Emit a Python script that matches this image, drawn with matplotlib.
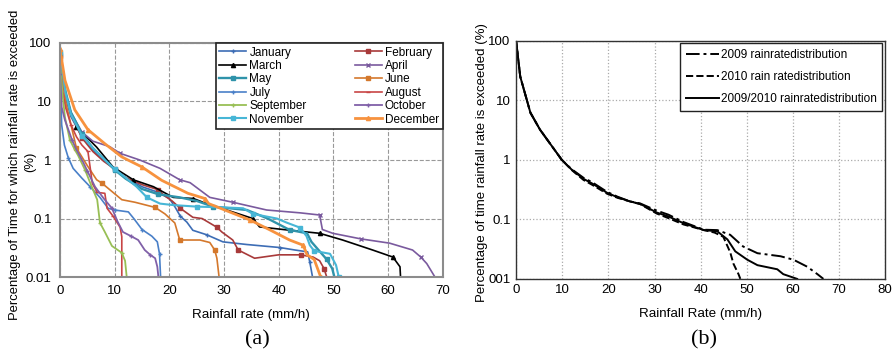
import matplotlib.pyplot as plt
import numpy as np

plt.rcParams['font.family'] = ['Liberation Sans', 'DejaVu Sans']

# ---------- (a) monthly rain rate exceedance curves ----------
months = ['January', 'February', 'March', 'April', 'May', 'June',
          'July', 'August', 'September', 'October', 'November', 'December']

jan_x = [0, 1, 2, 4, 6, 8, 10, 12, 15, 18, 20, 21, 22, 23.2, 24.3, 26.8, 29.8, 34.2, 40.2, 43, 45.3, 45.7, 46.2]
jan_y = [60, 12, 5.5, 2.5, 1.5, 1.0, 0.7, 0.5, 0.35, 0.28, 0.22, 0.16, 0.11, 0.087, 0.063, 0.053, 0.04, 0.036, 0.032, 0.029, 0.027, 0.018, 0.01]

feb_x = [0, 1, 2, 4, 6, 8, 10, 12, 15, 18, 19, 20.5, 22, 24.3, 26, 28.7, 29.6, 31.6, 32.6, 35.6, 40, 44, 46.3, 47.5, 48.3, 48.8]
feb_y = [60, 12, 6, 2.4, 1.4, 0.95, 0.7, 0.5, 0.38, 0.31, 0.25, 0.2, 0.15, 0.105, 0.1, 0.071, 0.059, 0.043, 0.029, 0.021, 0.024, 0.024, 0.022, 0.019, 0.014, 0.01]

mar_x = [3, 6.7, 9.7, 13.4, 17.1, 20.7, 24.4, 26.8, 30.5, 35.3, 36.5, 41.5, 47.5, 51.7, 57.2, 60.9, 62.2, 62.3]
mar_y = [3.7, 1.66, 0.76, 0.46, 0.35, 0.23, 0.22, 0.18, 0.14, 0.1, 0.072, 0.064, 0.056, 0.043, 0.029, 0.022, 0.015, 0.01]

apr_x = [0, 1, 2, 4, 6, 9.1, 11, 14.6, 18.3, 21.9, 23.8, 27.4, 31.6, 37.8, 44, 47.5, 48, 49.9, 55, 60.3, 64.5, 66, 67.1, 68.6]
apr_y = [60, 14, 6.5, 3, 2.1, 1.69, 1.3, 1.0, 0.72, 0.46, 0.41, 0.23, 0.19, 0.14, 0.125, 0.115, 0.065, 0.056, 0.045, 0.038, 0.029, 0.022, 0.017, 0.01]

may_x = [0, 1, 2, 4, 6, 8, 10, 12, 15, 18, 21.9, 25, 28, 34.2, 38, 42, 45.2, 46, 48.8, 49.8, 50.2]
may_y = [65, 15, 6.5, 2.8, 1.6, 1.05, 0.68, 0.48, 0.32, 0.26, 0.23, 0.2, 0.16, 0.14, 0.1, 0.064, 0.056, 0.04, 0.02, 0.014, 0.01]

jun_x = [0, 1, 2, 3, 5, 6.7, 7.7, 11.3, 13.7, 17.4, 19.2, 21, 21.9, 25.6, 27.4, 28.3, 28.7, 29.1]
jun_y = [55, 10, 4, 1.6, 0.8, 0.46, 0.4, 0.21, 0.19, 0.155, 0.12, 0.084, 0.043, 0.043, 0.039, 0.029, 0.021, 0.01]

jul_x = [0, 0.3, 0.8, 1.5, 2.4, 4, 5.5, 7.3, 8.8, 10, 12.5, 13.5, 15, 16.8, 17.8, 18.2, 18.4]
jul_y = [40, 4, 1.8, 1.1, 0.72, 0.49, 0.35, 0.23, 0.15, 0.14, 0.13, 0.1, 0.065, 0.05, 0.04, 0.025, 0.01]

aug_x = [0, 0.5, 1, 2, 3, 4, 5.1, 5.5, 5.9, 6.8, 8.2, 8.6, 9.7, 11, 11.3, 11.3]
aug_y = [50, 15, 8, 4, 2.5, 1.8, 1.4, 0.76, 0.4, 0.28, 0.27, 0.15, 0.11, 0.071, 0.049, 0.01]

sep_x = [0, 0.5, 0.9, 1.8, 2.7, 3.3, 4.6, 5.8, 6.8, 7.3, 8.2, 9.5, 11.3, 11.9, 12.2]
sep_y = [50, 12, 5.4, 2.2, 1.5, 1.2, 0.67, 0.35, 0.21, 0.085, 0.059, 0.034, 0.026, 0.019, 0.01]

oct_x = [0, 0.3, 0.9, 2.2, 3, 4.2, 5, 6.4, 8, 9.5, 10.5, 11.5, 13, 14.3, 15.5, 16.5, 17.4, 17.8, 18]
oct_y = [30, 8, 4.8, 2.2, 1.5, 0.93, 0.65, 0.35, 0.22, 0.15, 0.09, 0.059, 0.05, 0.043, 0.029, 0.024, 0.021, 0.015, 0.01]

nov_x = [0, 1, 2, 4, 6, 8, 10, 12, 14, 15.9, 18.3, 20.7, 25, 30, 33.5, 35.3, 39.7, 41.5, 43.9, 45.1, 45.7, 46.5, 49.4, 50.5, 51]
nov_y = [70, 14, 6, 2.6, 1.6, 1.05, 0.7, 0.5, 0.35, 0.23, 0.18, 0.17, 0.16, 0.155, 0.15, 0.12, 0.1, 0.085, 0.07, 0.05, 0.035, 0.028, 0.025, 0.016, 0.01]

dec_x = [0, 0.9, 2.7, 5.1, 8.2, 11.3, 15, 18.6, 23.4, 26.5, 27.2, 31, 34.7, 38.4, 42, 44.5, 45.2, 46.5, 47.7]
dec_y = [78, 23, 7.2, 3.3, 1.9, 1.13, 0.76, 0.45, 0.27, 0.22, 0.18, 0.13, 0.095, 0.064, 0.043, 0.035, 0.024, 0.02, 0.01]

month_data = [(jan_x, jan_y), (feb_x, feb_y), (mar_x, mar_y), (apr_x, apr_y),
              (may_x, may_y), (jun_x, jun_y), (jul_x, jul_y), (aug_x, aug_y),
              (sep_x, sep_y), (oct_x, oct_y), (nov_x, nov_y), (dec_x, dec_y)]

colors = ['#3d6db5', '#a83a3a', '#000000', '#7a5a9e', '#2f93aa', '#d4782c',
          '#4a80c8', '#c84545', '#98bf55', '#8060a8', '#47b6d6', '#f7923e']
markers = ['+', 's', '^', 'x', 's', 's', '+', '_', '+', '+', 's', '^']
widths = [1.2, 1.2, 1.2, 1.2, 1.7, 1.2, 1.2, 1.2, 1.3, 1.3, 1.5, 2.0]

# ---------- (b) yearly distributions ----------
y2009_x = [0, 0.9, 3.1, 5.2, 9.9, 12, 14.6, 16.5, 19.7, 22, 24.7, 26.9, 30.5, 33, 36.3, 40.7, 43.6, 46.4, 49.2, 52.3, 57.3, 60.1, 63.1, 65.3, 66.6]
y2009_y = [100, 25, 6.2, 3.2, 1.0, 0.7, 0.5, 0.42, 0.29, 0.24, 0.2, 0.185, 0.14, 0.12, 0.09, 0.067, 0.066, 0.055, 0.035, 0.027, 0.024, 0.021, 0.016, 0.012, 0.01]

y2010_x = [0, 0.9, 3.1, 5.2, 9.9, 12, 14.6, 16.5, 19.7, 22, 24.7, 26.9, 30.5, 33, 36.3, 40.7, 43, 44.9, 46.4, 47.1, 48.2, 48.6]
y2010_y = [100, 25, 6.2, 3.2, 1.0, 0.68, 0.46, 0.38, 0.27, 0.23, 0.2, 0.18, 0.125, 0.105, 0.082, 0.066, 0.06, 0.051, 0.028, 0.018, 0.012, 0.01]

yall_x = [0, 0.9, 3.1, 5.2, 9.9, 12, 14.6, 16.5, 19.7, 22, 24.7, 26.9, 30.5, 33, 36.3, 40.7, 43.6, 45.8, 47.5, 50.1, 52.3, 56.6, 57.9, 60.9]
yall_y = [100, 25, 6.2, 3.2, 1.0, 0.69, 0.48, 0.4, 0.28, 0.235, 0.2, 0.182, 0.13, 0.112, 0.086, 0.066, 0.063, 0.046, 0.029, 0.021, 0.017, 0.0145, 0.012, 0.01]

fig = plt.figure(figsize=(8.96, 3.58), dpi=100)
ax1 = fig.add_axes([0.067, 0.226, 0.427, 0.654])
ax2 = fig.add_axes([0.576, 0.221, 0.412, 0.665])

lines = []
for (xs, ys), name, c, m, lw in zip(month_data, months, colors, markers, widths):
    ln, = ax1.plot(xs, ys, color=c, lw=lw, marker=m, markersize=3, markevery=3, label=name)
    lines.append(ln)

ax1.set_yscale('log')
ax1.set_xlim(0, 70)
ax1.set_ylim(0.01, 100)
ax1.set_xticks(range(0, 71, 10))
ax1.set_yticks([0.01, 0.1, 1, 10, 100])
ax1.set_yticklabels(['0.01', '0.1', '1', '10', '100'])
ax1.minorticks_off()
ax1.grid(True, color='#999999', linestyle='--', linewidth=0.8)
ax1.tick_params(labelsize=9.5, length=0, pad=6)
for s in ax1.spines.values():
    s.set_color('#8c8c8c')
    s.set_linewidth(1.5)
ax1.set_xlabel('Rainfall rate (mm/h)', fontsize=9.6, labelpad=8)
ax1.set_ylabel('Percentage of Time for which rainfall rate is exceeded', fontsize=9.4)
ax1.yaxis.set_label_coords(-0.101, 0.48)
fig.text(30 / 896, 1 - 162 / 358, '(%)', fontsize=9.4, rotation=90, ha='center', va='center')

# legend filled row by row, as in the original
order = [0, 2, 4, 6, 8, 10, 1, 3, 5, 7, 9, 11]
leg1 = ax1.legend([lines[i] for i in order], [months[i] for i in order],
                  ncol=2, loc='upper right', fontsize=8.5, frameon=True, fancybox=False,
                  edgecolor='#222222', framealpha=1, handlelength=2.3, handletextpad=0.25,
                  columnspacing=2.2, labelspacing=0.12, borderpad=0.3, mode='expand',
                  borderaxespad=0.0, bbox_to_anchor=(0.407, 0.6, 0.593, 0.4))
leg1.get_frame().set_linewidth(1.2)
fig.text(0.287, 0.05, '(a)', fontsize=16, family='Liberation Serif', ha='center', va='center')

ax2.plot(y2009_x, y2009_y, color='black', lw=1.4, linestyle=(0, (7, 2, 1.5, 2)), label='2009 rainratedistribution')
ax2.plot(y2010_x, y2010_y, color='black', lw=1.4, linestyle='--', label='2010 rain ratedistribution')
ax2.plot(yall_x, yall_y, color='black', lw=1.4, linestyle='-', label='2009/2010 rainratedistribution')
ax2.set_yscale('log')
ax2.set_xlim(0, 80)
ax2.set_ylim(0.01, 100)
ax2.set_xticks(range(0, 81, 10))
ax2.set_yticks([0.01, 0.1, 1, 10, 100])
ax2.set_yticklabels(['001', '0.1', '1', '10', '100'])
ax2.minorticks_off()
ax2.grid(True, color='#aaaaaa', linestyle=':', linewidth=0.9)
ax2.tick_params(labelsize=9.5, length=0, pad=4)
for s in ax2.spines.values():
    s.set_color('#333333')
    s.set_linewidth(1.0)
ax2.set_xlabel('Rainfall Rate (mm/h)', fontsize=9.6, labelpad=8)
ax2.set_ylabel('Percentage of time rainfall rate is exceeded (%)', fontsize=9.5)
ax2.yaxis.set_label_coords(-0.076, 0.49)
leg2 = ax2.legend(loc='upper right', fontsize=8.5, frameon=True, fancybox=False,
                  edgecolor='#222222', framealpha=1, handlelength=2.8, handletextpad=0.1,
                  labelspacing=0.85, borderpad=0.5, borderaxespad=0.0,
                  bbox_to_anchor=(0.992, 0.99))
leg2.get_frame().set_linewidth(1.0)
fig.text(0.786, 0.05, '(b)', fontsize=16, family='Liberation Serif', ha='center', va='center')

fig.savefig('out.png', dpi=100, facecolor='white')
